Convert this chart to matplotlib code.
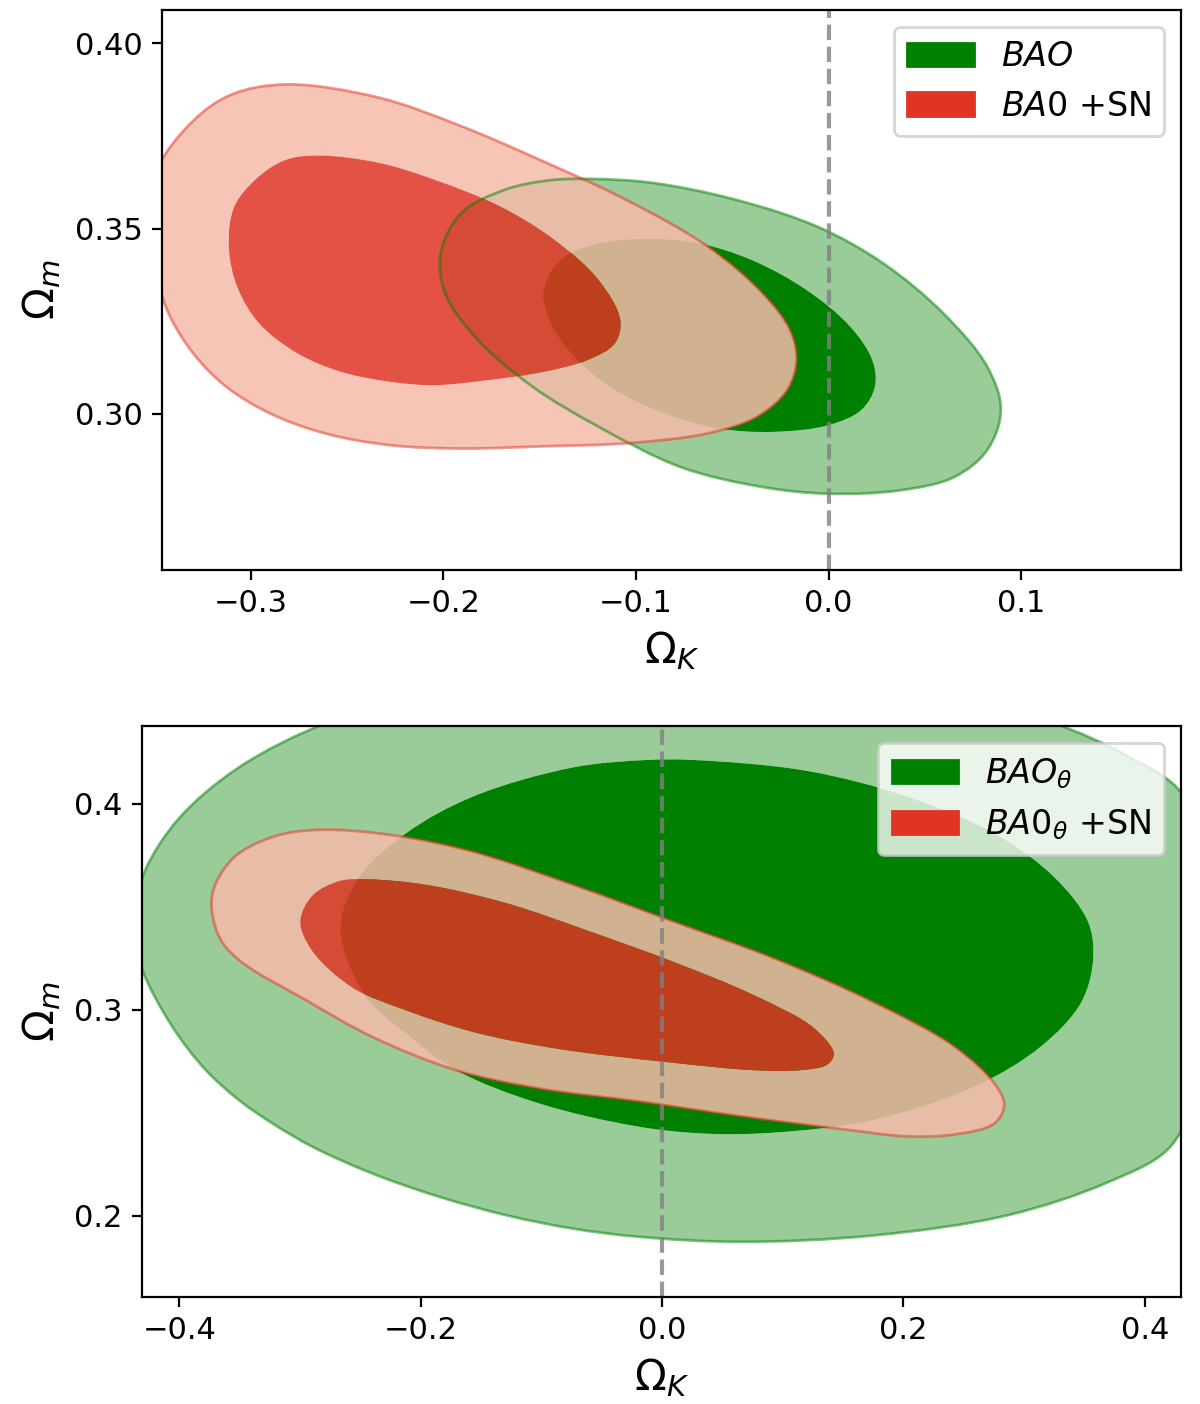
import numpy as np
import matplotlib
matplotlib.use('Agg')
import matplotlib.pyplot as plt
from matplotlib.path import Path
from matplotlib.patches import PathPatch, Patch

# contour outlines (Omega_K, Omega_m)
# upper panel: BAO and BAO+SN
top_bao_95_k = [-0.1237, -0.0910, -0.0484, -0.0058, 0.0284, 0.0596, 0.0824, 0.0895, 0.0824, 0.0653, 0.0369,
                0.0000, -0.0342, -0.0768, -0.1194, -0.1536, -0.1820, -0.1990, -0.2013, -0.1905, -0.1678, -0.1450]
top_bao_95_m = [0.3634, 0.3623, 0.3578, 0.3505, 0.3406, 0.3271, 0.3127, 0.3010, 0.2902, 0.2829, 0.2793,
                0.2784, 0.2802, 0.2856, 0.2965, 0.3073, 0.3199, 0.3325, 0.3433, 0.3542, 0.3605, 0.3630]
top_bao_68_k = [-0.0967, -0.0683, -0.0399, -0.0114, 0.0113, 0.0227, 0.0241, 0.0170, 0.0000, -0.0285, -0.0569,
                -0.0853, -0.1137, -0.1336, -0.1450, -0.1479, -0.1393, -0.1223]
top_bao_68_m = [0.3472, 0.3461, 0.3415, 0.3334, 0.3235, 0.3145, 0.3073, 0.3010, 0.2969, 0.2951, 0.2960,
                0.3001, 0.3073, 0.3163, 0.3253, 0.3334, 0.3415, 0.3456]
top_sn_95_k = [-0.2814, -0.2331, -0.1905, -0.1479, -0.1052, -0.0626, -0.0342, -0.0200, -0.0166, -0.0214, -0.0370,
               -0.0626, -0.1052, -0.1479, -0.1905, -0.2274, -0.2615, -0.2900, -0.3127, -0.3298, -0.3426,
               -0.3490, -0.3520, -0.3495, -0.3300, -0.3098]
top_sn_95_m = [0.3889, 0.3853, 0.3776, 0.3681, 0.3578, 0.3451, 0.3325, 0.3226, 0.3145, 0.3064, 0.2992,
               0.2947, 0.2920, 0.2912, 0.2906, 0.2915, 0.2947, 0.3001, 0.3073, 0.3163, 0.3271,
               0.3380, 0.3520, 0.3650, 0.3790, 0.3862]
top_sn_68_k = [-0.2644, -0.2331, -0.2047, -0.1706, -0.1422, -0.1194, -0.1081, -0.1109, -0.1251, -0.1479, -0.1763,
               -0.2047, -0.2274, -0.2530, -0.2757, -0.2956, -0.3070, -0.3113, -0.3084, -0.2956, -0.2814]
top_sn_68_m = [0.3697, 0.3677, 0.3632, 0.3560, 0.3469, 0.3361, 0.3253, 0.3190, 0.3145, 0.3113, 0.3091,
               0.3077, 0.3086, 0.3113, 0.3163, 0.3244, 0.3343, 0.3451, 0.3560, 0.3641, 0.3686]

# lower panel: BAO_theta and BAO_theta+SN
bot_bao_95_k = [-0.2787, -0.3507, -0.4006, -0.4283, -0.4360, -0.4350, -0.4306, -0.4057, -0.3780, -0.3504, -0.3227,
                -0.2896, -0.2398, -0.1844, -0.1291, -0.0738, -0.0185, 0.0648, 0.1756, 0.2864, 0.3695, 0.4194,
                0.4400, 0.4520, 0.4550, 0.4500, 0.4305, 0.3861, 0.3252, 0.2500, 0.1500, 0.0500, -0.0500,
                -0.1500, -0.2200]
bot_bao_95_m = [0.4390, 0.4176, 0.3927, 0.3677, 0.3500, 0.3330, 0.3192, 0.2916, 0.2706, 0.2560, 0.2447,
                0.2334, 0.2204, 0.2091, 0.2002, 0.1937, 0.1897, 0.1873, 0.1904, 0.2002, 0.2162, 0.2323,
                0.2550, 0.2900, 0.3300, 0.3700, 0.4052, 0.4230, 0.4390, 0.4510, 0.4590, 0.4620, 0.4610,
                0.4560, 0.4480]
bot_bao_68_k = [0.0260, 0.1202, 0.2033, 0.2753, 0.3252, 0.3529, 0.3573, 0.3474, 0.3141, 0.2587, 0.1756, 0.0925,
                0.0371, -0.0185, -0.1015, -0.1706, -0.2121, -0.2453, -0.2665, -0.2510, -0.2122, -0.1568,
                -0.0737, -0.0127]
bot_bao_68_m = [0.4212, 0.4159, 0.4034, 0.3856, 0.3642, 0.3428, 0.3250, 0.3036, 0.2822, 0.2626, 0.2465, 0.2403,
                0.2398, 0.2431, 0.2544, 0.2706, 0.2884, 0.3062, 0.3392, 0.3642, 0.3856, 0.4034,
                0.4176, 0.4212]
bot_sn_95_k = [-0.2842, -0.2233, -0.1568, -0.0737, 0.0094, 0.0925, 0.1756, 0.2421, 0.2753, 0.2836, 0.2753, 0.2421,
               0.2033, 0.1479, 0.0648, -0.0183, -0.1015, -0.1706, -0.2398, -0.2950, -0.3504, -0.3673, -0.3729,
               -0.3562, -0.3230]
bot_sn_95_m = [0.3873, 0.3847, 0.3767, 0.3606, 0.3428, 0.3250, 0.3036, 0.2822, 0.2643, 0.2537, 0.2447, 0.2394,
               0.2385, 0.2421, 0.2483, 0.2554, 0.2617, 0.2706, 0.2867, 0.3046, 0.3240, 0.3357, 0.3553,
               0.3731, 0.3838]
bot_sn_68_k = [-0.2454, -0.1956, -0.1291, -0.0571, 0.0094, 0.0759, 0.1258, 0.1424, 0.1368, 0.1147, 0.0759, 0.0094,
               -0.0876, -0.1568, -0.2121, -0.2565, -0.2898, -0.2997, -0.2898, -0.2676]
bot_sn_68_m = [0.3633, 0.3606, 0.3517, 0.3374, 0.3232, 0.3071, 0.2911, 0.2786, 0.2733, 0.2706, 0.2706, 0.2742,
               0.2811, 0.2892, 0.2997, 0.3107, 0.3285, 0.3428, 0.3553, 0.3624]

green = np.array(matplotlib.colors.to_rgb('green'))
green_pale = green * 0.4 + 0.6
red = np.array(matplotlib.colors.to_rgb('#E03424'))
red_pale = np.array([246, 187, 170]) / 255


def closed_path(ax, xs, ys, ccw=True):
    # smooth closed curve through the read points (centripetal Catmull-Rom as cubic Bezier)
    pts = np.column_stack([xs, ys]).astype(float)
    area = np.sum(pts[:, 0] * np.roll(pts[:, 1], -1) - np.roll(pts[:, 0], -1) * pts[:, 1])
    if (area > 0) != ccw:
        pts = pts[::-1]
    disp = ax.transData.transform(pts)
    n = len(pts)
    verts = [pts[0]]
    codes = [Path.MOVETO]
    for i in range(n):
        i0, i1, i2, i3 = i - 1, i, (i + 1) % n, (i + 2) % n
        d1 = np.hypot(*(disp[i1] - disp[i0]))
        d2 = np.hypot(*(disp[i2] - disp[i1]))
        d3 = np.hypot(*(disp[i3] - disp[i2]))
        a1, a2, a3 = np.sqrt(d1), np.sqrt(d2), np.sqrt(d3)
        p0, p1, p2, p3 = pts[i0], pts[i1], pts[i2], pts[i3]
        b1 = (d1 * p2 - d2 * p0 + (2 * d1 + 3 * a1 * a2 + d2) * p1) / (3 * a1 * (a1 + a2))
        b2 = (d3 * p1 - d2 * p3 + (2 * d3 + 3 * a3 * a2 + d2) * p2) / (3 * a3 * (a3 + a2))
        verts += [b1, b2, p2]
        codes += [Path.CURVE4] * 3
    verts.append(pts[0])
    codes.append(Path.CLOSEPOLY)
    return Path(verts, codes)


def draw_fills(ax, k95, m95, k68, m68, col, col_pale, alpha):
    outer = closed_path(ax, k95, m95, True)
    inner = closed_path(ax, k68, m68, True)
    hole = closed_path(ax, k68, m68, False)
    band = Path.make_compound_path(outer, hole)
    ax.add_patch(PathPatch(band, facecolor=col_pale, edgecolor='none', alpha=alpha))
    ax.add_patch(PathPatch(inner, facecolor=col, edgecolor='none', alpha=alpha))
    return outer


def draw_edge(ax, outer, col):
    ax.add_patch(PathPatch(outer, fill=False, edgecolor=col, lw=1.0, alpha=0.5))


fig = plt.figure(figsize=(6, 7.02), dpi=200)

ax1 = fig.add_axes([0.135, 0.594, 0.8492, 0.3989])
ax1.set_xlim(-0.346, 0.183)
ax1.set_ylim(0.2578, 0.409)
g = draw_fills(ax1, top_bao_95_k, top_bao_95_m, top_bao_68_k, top_bao_68_m, green, green_pale, 1.0)
r = draw_fills(ax1, top_sn_95_k, top_sn_95_m, top_sn_68_k, top_sn_68_m, red, red_pale, 0.85)
draw_edge(ax1, g, green)
draw_edge(ax1, r, red)
ax1.axvline(0, ls='--', lw=1.5, color='gray', alpha=0.8)
ax1.set_xticks([-0.3, -0.2, -0.1, 0.0, 0.1])
ax1.set_yticks([0.30, 0.35, 0.40])
ax1.set_yticklabels(['0.30', '0.35', '0.40'])
ax1.tick_params(labelsize=11)
ax1.set_xlabel(r'$\Omega_K$', fontsize=15)
ax1.set_ylabel(r'$\Omega_m$', fontsize=15)
ax1.legend(handles=[Patch(color=green, label=r'$BAO$'), Patch(color=red, label=r'$BA0$ +SN')],
           loc='upper right', fontsize=12)

ax2 = fig.add_axes([0.1183, 0.0762, 0.8658, 0.4067])
ax2.set_xlim(-0.431, 0.430)
ax2.set_ylim(0.1605, 0.4377)
g = draw_fills(ax2, bot_bao_95_k, bot_bao_95_m, bot_bao_68_k, bot_bao_68_m, green, green_pale, 1.0)
r = draw_fills(ax2, bot_sn_95_k, bot_sn_95_m, bot_sn_68_k, bot_sn_68_m, red, red_pale, 0.85)
draw_edge(ax2, g, green)
draw_edge(ax2, r, red)
ax2.axvline(0, ls='--', lw=1.5, color='gray', alpha=0.8)
ax2.set_xticks([-0.4, -0.2, 0.0, 0.2, 0.4])
ax2.set_yticks([0.2, 0.3, 0.4])
ax2.tick_params(labelsize=11)
ax2.set_xlabel(r'$\Omega_K$', fontsize=15)
ax2.set_ylabel(r'$\Omega_m$', fontsize=15)
ax2.legend(handles=[Patch(color=green, label=r'$BAO_\theta$'), Patch(color=red, label=r'$BA0_\theta$ +SN')],
           loc='upper right', fontsize=12)

fig.savefig('out.png', dpi=200)
